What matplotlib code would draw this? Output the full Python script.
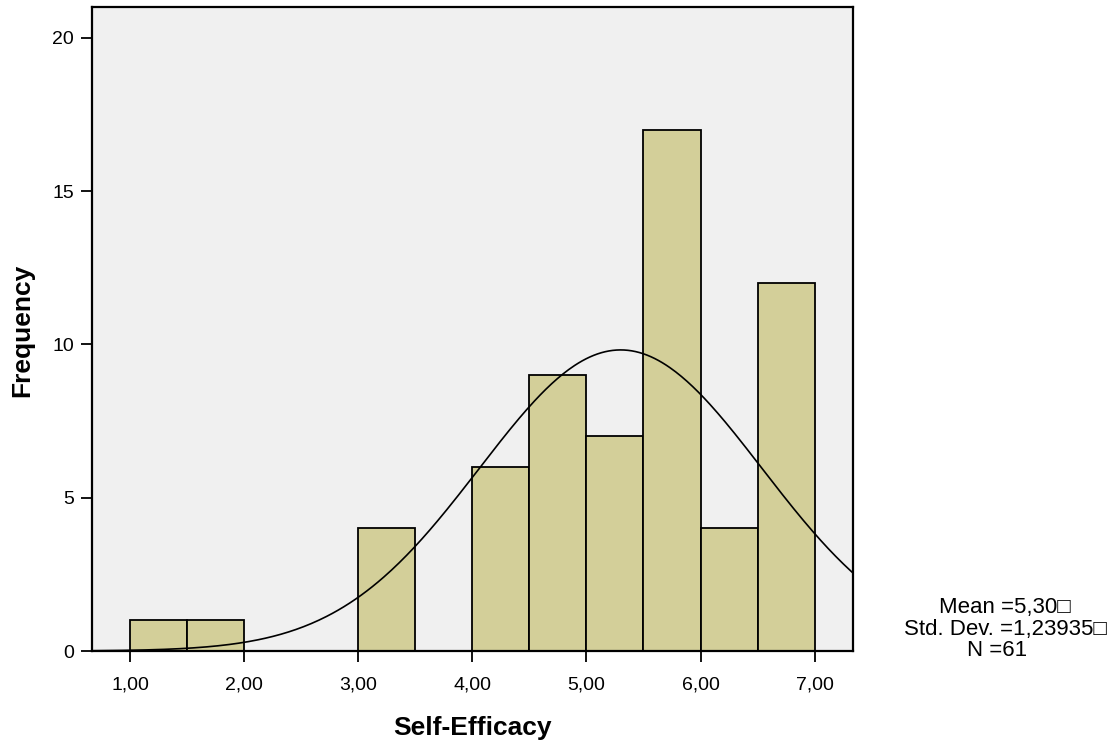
import matplotlib
matplotlib.use("Agg")
import matplotlib.pyplot as plt
import numpy as np

plt.rcParams['font.family'] = ['Liberation Sans', 'DejaVu Sans']

# Histograma de Self-Efficacy (ancho de clase 0.5)
bin_left = [1.0, 1.5, 2.0, 2.5, 3.0, 3.5, 4.0, 4.5, 5.0, 5.5, 6.0, 6.5]
counts = [1, 1, 0, 0, 4, 0, 6, 9, 7, 17, 4, 12]
bin_width = 0.5

# Estadisticos de la muestra
mean = 5.30
sd = 1.23935
n = 61

x_ticks = [1, 2, 3, 4, 5, 6, 7]
x_tick_labels = ["1,00", "2,00", "3,00", "4,00", "5,00", "6,00", "7,00"]
y_ticks = [0, 5, 10, 15, 20]

fig = plt.figure(figsize=(11.19, 7.47), dpi=100)
ax = fig.add_axes([92 / 1119, 1 - 651 / 747, (853 - 92) / 1119, (651 - 7) / 747])
ax.set_facecolor("#F0F0F0")

# solo barras con frecuencia > 0
for xl, c in zip(bin_left, counts):
    if c > 0:
        ax.bar(xl, c, width=bin_width, align="edge", color="#D3CF99",
               edgecolor="black", linewidth=1.3, zorder=2)

# curva normal escalada a frecuencias
ax.set_xlim(0.665, 7.337)
ax.set_ylim(0, 21)
xs = np.linspace(0.665, 7.337, 400)
ys = n * bin_width * np.exp(-0.5 * ((xs - mean) / sd) ** 2) / (sd * np.sqrt(2 * np.pi))
ax.plot(xs, ys, color="black", linewidth=1.2, zorder=3)

ax.set_xticks(x_ticks)
ax.set_xticklabels(x_tick_labels)
ax.set_yticks(y_ticks)
ax.tick_params(axis="both", direction="out", length=8, width=1.3, labelsize=14)
ax.tick_params(axis="x", pad=10)
ax.tick_params(axis="y", pad=5)
for s in ax.spines.values():
    s.set_linewidth(1.6)

fig.text(472 / 1119, 1 - 728 / 747, "Self-Efficacy", ha="center", va="center",
         fontsize=19, fontweight="bold")
fig.text(22 / 1119, 1 - 330 / 747, "Frequency", ha="center", va="center",
         rotation=90, fontsize=19, fontweight="bold")

fig.text(1005 / 1119, 1 - 608 / 747, "Mean =5,30\u25a1", ha="center", va="center", fontsize=16)
fig.text(1005 / 1119, 1 - 629 / 747, "Std. Dev. =1,23935\u25a1", ha="center", va="center", fontsize=16)
fig.text(997 / 1119, 1 - 650 / 747, "N =61", ha="center", va="center", fontsize=16)

fig.savefig("out.png", dpi=100)
